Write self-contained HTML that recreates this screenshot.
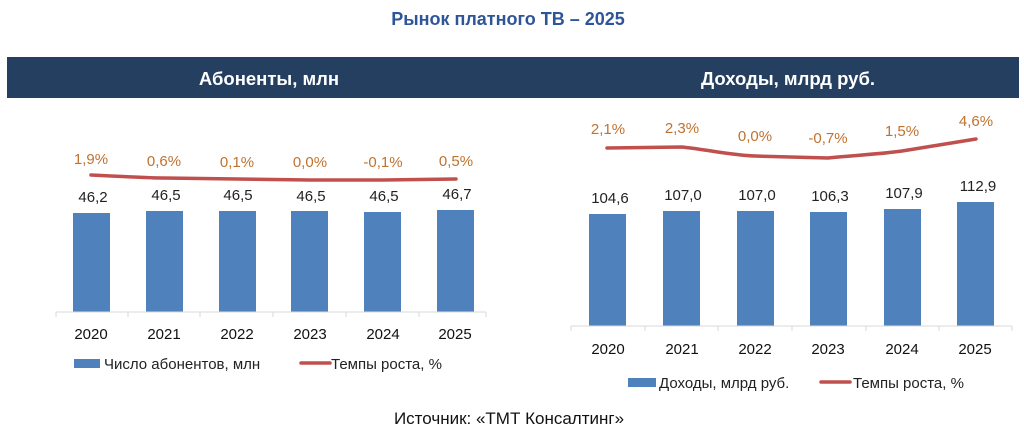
<!DOCTYPE html>
<html><head><meta charset="utf-8"><style>
body{margin:0;background:#fff;}
svg text{font-family:"Liberation Sans","DejaVu Sans",sans-serif;}
</style></head><body>
<svg width="1024" height="436" viewBox="0 0 1024 436" xmlns="http://www.w3.org/2000/svg">
<text x="508" y="25" text-anchor="middle" font-size="18" font-weight="bold" fill="#2e5597">Рынок платного ТВ – 2025</text>
<rect x="7" y="57" width="1012" height="41" fill="#243f60"/>
<text x="269" y="85" text-anchor="middle" font-size="18.5" font-weight="bold" fill="#fff">Абоненты, млн</text>
<text x="788" y="85" text-anchor="middle" font-size="18.5" font-weight="bold" fill="#fff">Доходы, млрд руб.</text>

<!-- Left chart -->
<g fill="#4f81bd">
<rect x="73" y="213" width="37" height="99"/>
<rect x="146" y="211" width="37" height="101"/>
<rect x="219" y="211" width="37" height="101"/>
<rect x="291" y="211" width="37" height="101"/>
<rect x="364" y="212" width="37" height="100"/>
<rect x="437" y="210" width="37" height="102"/>
</g>
<path d="M56 312H486 M56 312v5 M128 312v5 M200 312v5 M273 312v5 M346 312v5 M419 312v5 M486 312v5" stroke="#d9d9d9" stroke-width="1"/>
<path d="M91 175 C130 177,150 178,164 178 L237 179 L310 180 L383 180 L456 179" stroke="#c0504d" stroke-width="3.5" fill="none" stroke-linecap="round"/>
<g font-size="15" fill="#c0722f" text-anchor="middle">
<text x="91" y="164">1,9%</text><text x="164" y="166">0,6%</text><text x="237" y="167">0,1%</text><text x="310" y="167">0,0%</text><text x="383" y="167">-0,1%</text><text x="456" y="166">0,5%</text>
</g>
<g font-size="15" fill="#222" text-anchor="middle">
<text x="93" y="202">46,2</text><text x="166" y="200">46,5</text><text x="238" y="200">46,5</text><text x="311" y="201">46,5</text><text x="384" y="201">46,5</text><text x="457" y="199">46,7</text>
</g>
<g font-size="15" fill="#111" text-anchor="middle">
<text x="91" y="339">2020</text><text x="164" y="339">2021</text><text x="237" y="339">2022</text><text x="310" y="339">2023</text><text x="383" y="339">2024</text><text x="455" y="339">2025</text>
</g>
<rect x="74" y="359" width="26" height="9" fill="#4f81bd"/>
<text x="104" y="369" font-size="15" fill="#222">Число абонентов, млн</text>
<line x1="301" y1="363" x2="330" y2="363" stroke="#c0504d" stroke-width="3.5" stroke-linecap="round"/>
<text x="331" y="369" font-size="15" fill="#222">Темпы роста, %</text>

<!-- Right chart -->
<g fill="#4f81bd">
<rect x="589" y="214" width="37" height="112"/>
<rect x="663" y="211" width="37" height="115"/>
<rect x="737" y="211" width="37" height="115"/>
<rect x="810" y="212" width="37" height="114"/>
<rect x="884" y="209" width="37" height="117"/>
<rect x="957" y="202" width="37" height="124"/>
</g>
<path d="M571 326H1012 M571 326v5 M645 326v5 M718 326v5 M792 326v5 M866 326v5 M939 326v5 M1012 326v5" stroke="#d9d9d9" stroke-width="1"/>
<path d="M607 148 L682 147 C710 150,730 155,755 156 L828 158 C860 155,880 154,902 151 L976 139" stroke="#c0504d" stroke-width="3.5" fill="none" stroke-linecap="round"/>
<g font-size="15" fill="#c0722f" text-anchor="middle">
<text x="608" y="134">2,1%</text><text x="682" y="133">2,3%</text><text x="755" y="141">0,0%</text><text x="828" y="143">-0,7%</text><text x="902" y="136">1,5%</text><text x="976" y="126">4,6%</text>
</g>
<g font-size="15" fill="#222" text-anchor="middle">
<text x="610" y="203">104,6</text><text x="683" y="200">107,0</text><text x="757" y="200">107,0</text><text x="830" y="201">106,3</text><text x="904" y="198">107,9</text><text x="978" y="191">112,9</text>
</g>
<g font-size="15" fill="#111" text-anchor="middle">
<text x="608" y="354">2020</text><text x="682" y="354">2021</text><text x="755" y="354">2022</text><text x="828" y="354">2023</text><text x="902" y="354">2024</text><text x="975" y="354">2025</text>
</g>
<rect x="628" y="378" width="28" height="9" fill="#4f81bd"/>
<text x="659" y="388" font-size="15" fill="#222">Доходы, млрд руб.</text>
<line x1="821" y1="382" x2="850" y2="382" stroke="#c0504d" stroke-width="3.5" stroke-linecap="round"/>
<text x="853" y="388" font-size="15" fill="#222">Темпы роста, %</text>

<text x="509" y="424" text-anchor="middle" font-size="17" fill="#111">Источник: «ТМТ Консалтинг»</text>
</svg>
</body></html>
